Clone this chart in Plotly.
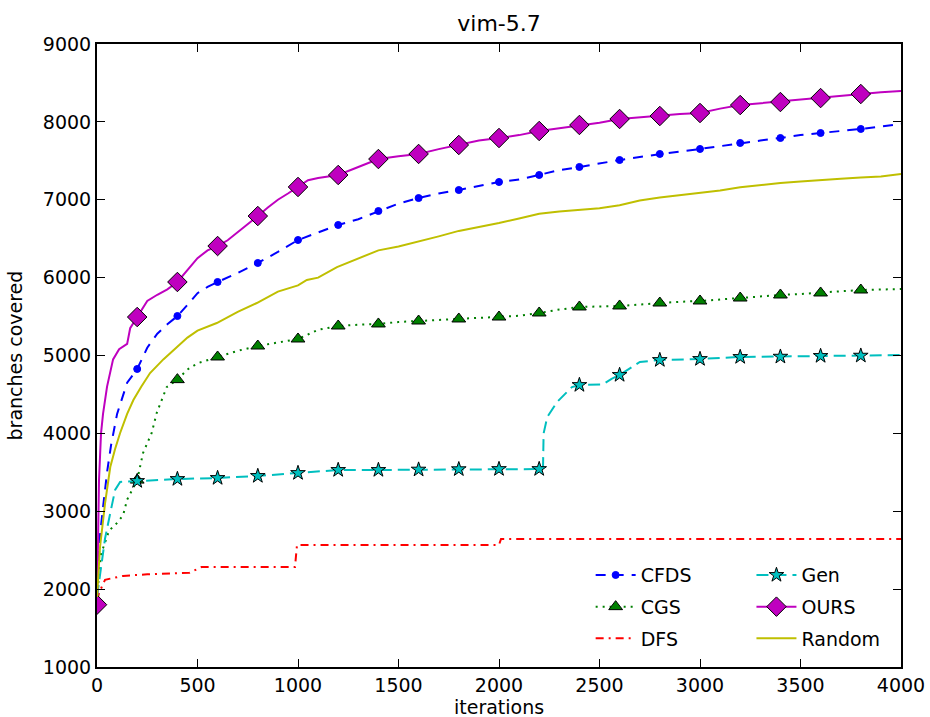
import plotly.graph_objects as go

# ---------------- data ----------------
ours_x = [0, 10, 20, 30, 50, 80, 110, 150, 165, 200, 250, 300, 350, 400, 450, 500, 550, 600, 650, 700,
          750, 800, 850, 900, 950, 1000, 1050, 1100, 1200, 1300, 1400, 1500, 1600, 1700, 1800, 1900,
          2000, 2100, 2200, 2300, 2400, 2500, 2600, 2700, 2800, 2900, 3000, 3100, 3200, 3300, 3400,
          3500, 3600, 3700, 3800, 3900, 4000]
ours_y = [1800, 3400, 4000, 4250, 4600, 4950, 5080, 5150, 5350, 5494, 5700, 5780, 5850, 5944, 6100,
          6250, 6350, 6406, 6480, 6580, 6680, 6791, 6900, 7000, 7080, 7164, 7250, 7280, 7318, 7420,
          7523, 7560, 7588, 7650, 7703, 7760, 7793, 7830, 7883, 7920, 7960, 7990, 8037, 8060, 8075,
          8100, 8114, 8170, 8216, 8240, 8255, 8280, 8306, 8330, 8358, 8380, 8396]

cfds_x = [0, 15, 30, 50, 70, 100, 150, 200, 250, 300, 350, 400, 450, 500, 550, 600, 700, 800, 900,
          1000, 1100, 1200, 1300, 1400, 1500, 1600, 1700, 1800, 1900, 2000, 2100, 2200, 2300, 2400,
          2500, 2600, 2700, 2800, 2900, 3000, 3100, 3200, 3300, 3400, 3500, 3600, 3700, 3800, 3900, 4000]
cfds_y = [1900, 2700, 3050, 3500, 3850, 4250, 4650, 4827, 5100, 5280, 5400, 5507, 5650, 5800, 5880,
          5944, 6060, 6188, 6330, 6483, 6580, 6676, 6750, 6855, 6950, 7022, 7080, 7125, 7180, 7228,
          7260, 7318, 7380, 7421, 7470, 7510, 7550, 7588, 7620, 7652, 7690, 7729, 7760, 7793, 7830,
          7857, 7880, 7909, 7940, 7973]

random_x = [0, 15, 40, 66, 90, 115, 150, 181, 220, 264, 330, 397, 450, 500, 596, 700, 795, 900, 1000,
            1044, 1100, 1194, 1300, 1400, 1500, 1600, 1700, 1800, 1900, 2000, 2100, 2200, 2300, 2400,
            2500, 2600, 2700, 2800, 2900, 3000, 3100, 3200, 3300, 3400, 3500, 3600, 3700, 3800, 3900, 4000]
random_y = [1900, 2541, 3100, 3568, 3800, 4005, 4250, 4428, 4600, 4775, 4950, 5109, 5230, 5320, 5417,
            5560, 5674, 5820, 5900, 5970, 6000, 6136, 6250, 6350, 6400, 6460, 6530, 6600, 6650, 6701,
            6760, 6820, 6850, 6870, 6890, 6930, 6990, 7030, 7060, 7090, 7120, 7160, 7190, 7215, 7235,
            7255, 7270, 7285, 7300, 7330]

cgs_x = [0, 20, 60, 100, 130, 150, 200, 229, 272, 297, 347, 400, 450, 500, 600, 700, 800, 900, 1000,
         1100, 1200, 1300, 1400, 1500, 1600, 1700, 1800, 1900, 2000, 2100, 2200, 2300, 2400, 2500,
         2600, 2700, 2800, 2900, 3000, 3100, 3200, 3300, 3400, 3500, 3600, 3700, 3800, 3900, 4000]
cgs_y = [1900, 2450, 2750, 2850, 2950, 3150, 3400, 3748, 4005, 4262, 4595, 4690, 4820, 4900, 4981,
         5060, 5122, 5170, 5212, 5330, 5379, 5395, 5405, 5430, 5443, 5455, 5469, 5480, 5494, 5510,
         5546, 5590, 5623, 5630, 5636, 5655, 5674, 5690, 5700, 5720, 5738, 5760, 5777, 5790, 5803,
         5825, 5841, 5850, 5854]

gen_x = [0, 20, 40, 66, 90, 115, 200, 400, 600, 800, 1000, 1100, 1200, 1400, 1600, 1800, 2000, 2200,
         2219, 2222, 2240, 2289, 2363, 2400, 2517, 2560, 2600, 2652, 2701, 2800, 3000, 3200, 3400,
         3600, 3800, 4000]
gen_y = [1900, 2300, 2650, 2978, 3273, 3376, 3388, 3414, 3427, 3453, 3491, 3510, 3530, 3530, 3535,
         3540, 3542, 3542, 3560, 4000, 4210, 4403, 4595, 4621, 4630, 4700, 4750, 4840, 4917, 4942,
         4955, 4981, 4985, 4994, 4998, 5006]

dfs_x = [0, 10, 40, 130, 250, 460, 520, 985, 995, 2000, 2010, 4000]
dfs_y = [1850, 1950, 2120, 2170, 2190, 2210, 2284, 2284, 2567, 2567, 2644, 2644]

marker_iters = list(range(200, 4000, 200))
ours_marker_iters = [0] + marker_iters

# ---------------- styles ----------------
BLUE = "#0000ff"
GREEN = "#008000"
RED = "#ff0000"
CYAN = "#00bfbf"
MAG = "#bf00bf"
YEL = "#bfbf00"

series = [
    # name, x, y, color, dash, symbol, size, edge, legend, marker iters
    ("CFDS", cfds_x, cfds_y, BLUE, "10px,8px", "circle", 7, BLUE, "legend", marker_iters),
    ("CGS", cgs_x, cgs_y, GREEN, "2px,5px", "triangle-up", 12, "black", "legend", marker_iters),
    ("DFS", dfs_x, dfs_y, RED, "8px,5px,2px,5px", None, 0, None, "legend", []),
    ("Gen", gen_x, gen_y, CYAN, "12px,6px", "star", 11, "black", "legend2", marker_iters),
    ("OURS", ours_x, ours_y, MAG, "solid", "diamond", 15, "black", "legend2", ours_marker_iters),
    ("Random", random_x, random_y, YEL, "solid", None, 0, None, "legend2", []),
]

fig = go.Figure()

for name, xs, ys, col, dash, sym, size, edge, leg, mk in series:
    fig.add_trace(go.Scatter(x=xs, y=ys, mode="lines", line=dict(color=col, width=2, dash=dash),
                             showlegend=False, hoverinfo="skip"))
    if sym:
        lookup = dict(zip(xs, ys))
        mx = [v for v in mk if v in lookup]
        my = [lookup[v] for v in mx]
        fig.add_trace(go.Scatter(x=mx, y=my, mode="markers",
                                 marker=dict(symbol=sym, size=size, color=col,
                                             line=dict(color=edge, width=1)),
                                 showlegend=False, hoverinfo="skip"))

# legend-only entries
for name, xs, ys, col, dash, sym, size, edge, leg, mk in series:
    if sym:
        fig.add_trace(go.Scatter(x=[None], y=[None], mode="lines+markers", name=name,
                                 line=dict(color=col, width=2, dash=dash),
                                 marker=dict(symbol=sym, size=size, color=col,
                                             line=dict(color=edge, width=1)),
                                 legend=leg, legendgroup=name))
    else:
        fig.add_trace(go.Scatter(x=[None], y=[None], mode="lines", name=name,
                                 line=dict(color=col, width=2, dash=dash),
                                 legend=leg, legendgroup=name))

FONT = "DejaVu Sans"
axis_common = dict(showline=True, linecolor="black", linewidth=2, mirror="allticks",
                   ticks="inside", ticklen=8, tickwidth=1, tickcolor="black",
                   showgrid=False, zeroline=False, automargin=False,
                   tickfont=dict(family=FONT, size=19, color="black"))

fig.update_layout(
    width=930, height=717,
    margin=dict(l=97, r=29, t=44, b=50),
    paper_bgcolor="white", plot_bgcolor="white",
    title=dict(text="vim-5.7", x=0.5366, xanchor="center", y=0.968, yanchor="middle",
               font=dict(family=FONT, size=22, color="black")),
    xaxis=dict(range=[0, 4000], dtick=500, tick0=0, **axis_common),
    yaxis=dict(range=[1000, 9000], dtick=1000, tick0=1000, **axis_common),
    legend=dict(x=0.614, y=0.178, xanchor="left", yanchor="top", bgcolor="rgba(0,0,0,0)",
                font=dict(family=FONT, size=19, color="black"), tracegroupgap=4, itemwidth=40),
    legend2=dict(x=0.814, y=0.178, xanchor="left", yanchor="top", bgcolor="rgba(0,0,0,0)",
                 font=dict(family=FONT, size=19, color="black"), tracegroupgap=4, itemwidth=40),
    annotations=[
        dict(text="iterations", xref="paper", yref="paper", x=0.5, y=-0.044,
             xanchor="center", yanchor="top", showarrow=False,
             font=dict(family=FONT, size=19, color="black")),
        dict(text="branches covered", xref="paper", yref="paper", x=-0.102, y=0.5,
             xanchor="center", yanchor="middle", textangle=-90, showarrow=False,
             font=dict(family=FONT, size=19, color="black")),
    ],
)

fig.write_html("out.html")
